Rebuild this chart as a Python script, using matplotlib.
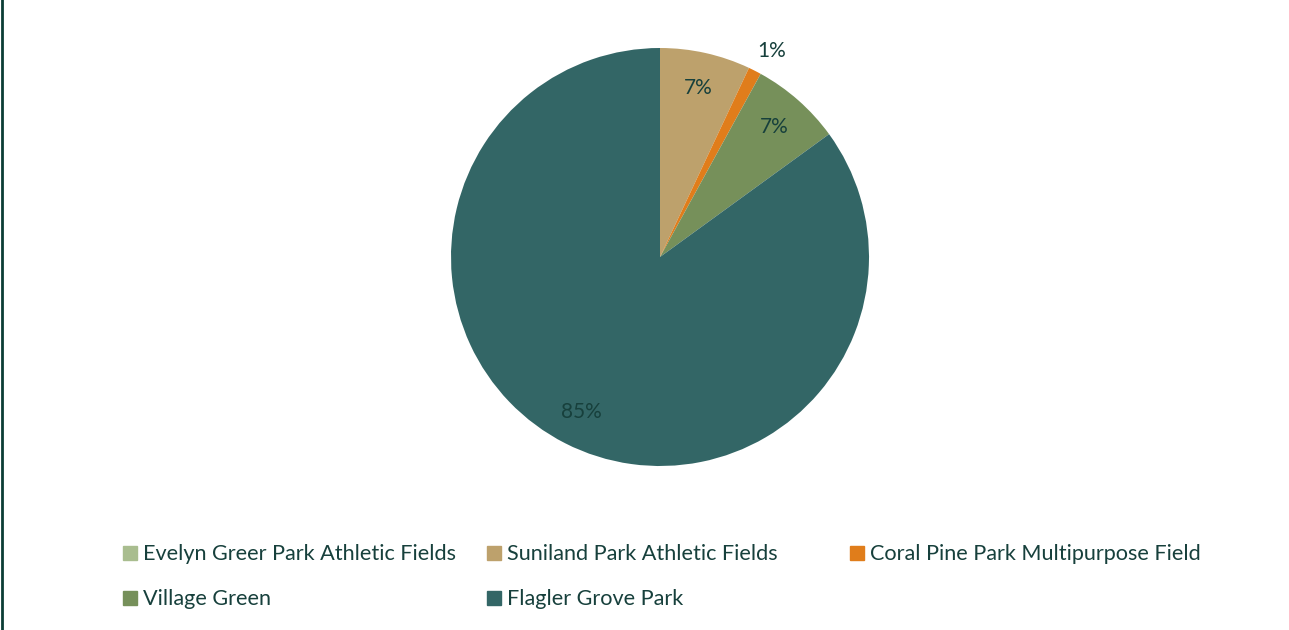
import matplotlib.pyplot as plt
import matplotlib.patches as mpatches
import matplotlib.lines as mlines
import numpy as np

names = ["Evelyn Greer Park Athletic Fields", "Suniland Park Athletic Fields",
         "Coral Pine Park Multipurpose Field", "Village Green", "Flagler Grove Park"]
shares = [0, 7, 1, 7, 85]
colors = ["#a9bd8f", "#bda16c", "#e07d1b", "#76905a", "#336666"]
txt = "#17403c"
W, H = 1289, 630

plt.rcParams['font.family'] = ['Lato', 'DejaVu Sans']
fig = plt.figure(figsize=(W / 100, H / 100), dpi=100)

# pie area in pixels: centre (660, 257), radius 209
cx, cy, r = 660, 257, 209
ax = fig.add_axes([(cx - r) / W, (H - cy - r) / H, 2 * r / W, 2 * r / H])
wedges, _ = ax.pie(shares, colors=colors, startangle=90, counterclock=False,
                   radius=1, wedgeprops=dict(linewidth=0))
ax.set_xlim(-1, 1)
ax.set_ylim(-1, 1)
ax.axis('off')

for w, s in zip(wedges, shares):
    if s == 0:
        continue
    mid = np.deg2rad((w.theta1 + w.theta2) / 2)
    d = 1.12 if s < 3 else 0.83
    if s < 3:
        mid -= np.deg2rad(1.5)
    ax.text(d * np.cos(mid), d * np.sin(mid), f"{s}%", ha='center', va='center',
            fontsize=15, color=txt, clip_on=False)

# legend laid out like the original: 3 equal columns, 2 rows
col_x = [123, 487, 850]
row_y = [553, 598]
for i, (n, c) in enumerate(zip(names, colors)):
    x = col_x[i % 3]
    y = row_y[i // 3]
    fig.patches.append(mpatches.Rectangle((x / W, (H - y - 7) / H), 14 / W, 14 / H,
                                          transform=fig.transFigure, color=c))
    fig.text((x + 20) / W, (H - y - 7) / H, n, ha='left', va='baseline',
             fontsize=15.6, color=txt)

# left frame line
fig.lines.append(mlines.Line2D([1.5 / W, 1.5 / W], [0, 1], transform=fig.transFigure,
                               color="#0b3d35", linewidth=2))

fig.savefig("out.png", dpi=100)
